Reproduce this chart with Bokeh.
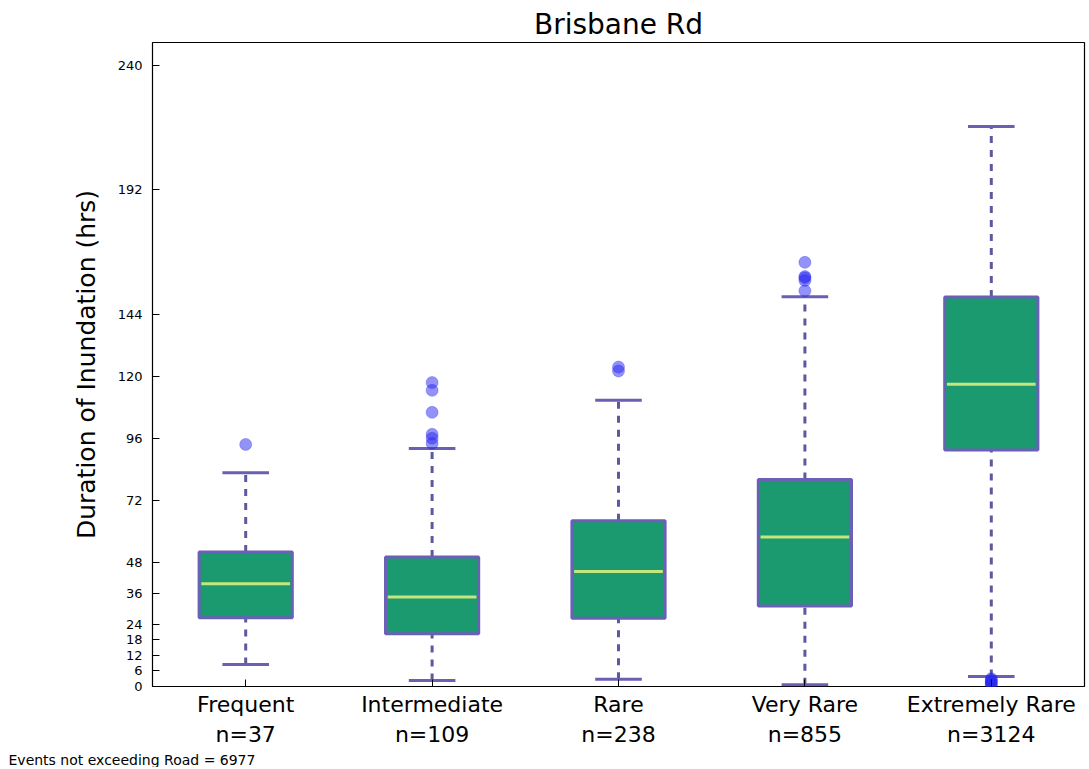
from bokeh.plotting import figure
from bokeh.models import FixedTicker, Range1d, Title, ColumnDataSource
from bokeh.embed import file_html
from bokeh.resources import INLINE

categories = ["Frequent", "Intermediate", "Rare", "Very Rare", "Extremely Rare"]
counts = [37, 109, 238, 855, 3124]
whisk_lo = [8.5, 2.3, 2.8, 0.7, 3.9]
q1 = [26.6, 20.4, 26.4, 31.1, 91.4]
median = [39.7, 34.6, 44.5, 57.8, 116.9]
q3 = [52.0, 50.1, 64.1, 80.0, 150.6]
whisk_hi = [82.6, 92.0, 110.7, 150.7, 216.5]
outlier_group = [1, 2, 2, 2, 2, 2, 2, 3, 3, 4, 4, 4, 4, 4, 5, 5, 5, 5, 5, 5]
outlier_value = [93.6, 117.5, 114.5, 106.0, 97.5, 96.0, 94.0, 123.5, 122.0,
                 164.0, 158.5, 158.0, 157.0, 153.0, 0.5, 1.0, 1.5, 2.0, 2.5, 3.0]
y_ticks = [0, 6, 12, 18, 24, 36, 48, 72, 96, 120, 144, 192, 240]
footer = "Events not exceeding Road = 6977"

pos = list(range(1, len(categories) + 1))
box_w = 0.5
cap_w = 0.25

FONT = "DejaVu Sans"

p = figure(frame_width=932, frame_height=644, output_backend="svg",
           toolbar_location=None, x_range=Range1d(0.5, 5.5), y_range=Range1d(0, 249),
           min_border_left=152, min_border_right=2, min_border_top=42, min_border_bottom=40)

p.title.text = "Brisbane Rd"
p.title.align = "center"
p.title.text_font = FONT
p.title.text_font_size = "28px"
p.title.text_font_style = "normal"
p.title.text_color = "black"
p.title.standoff = 4

p.xgrid.visible = False
p.ygrid.visible = False
p.background_fill_color = "white"
p.border_fill_color = "white"
p.outline_line_color = "black"
p.outline_line_width = 1.2

src = ColumnDataSource(dict(x=pos, lo=whisk_lo, q1=q1, med=median, q3=q3, hi=whisk_hi,
                            cl=[x - cap_w / 2 for x in pos], cr=[x + cap_w / 2 for x in pos],
                            bl=[x - box_w / 2 + 0.012 for x in pos],
                            br=[x + box_w / 2 - 0.012 for x in pos]))

# whiskers
p.segment(x0="x", y0="q3", x1="x", y1="hi", source=src, line_color="#5c5a9e",
          line_width=3, line_dash="7 7")
p.segment(x0="x", y0="lo", x1="x", y1="q1", source=src, line_color="#5c5a9e",
          line_width=3, line_dash="7 7")
# caps
p.segment(x0="cl", y0="hi", x1="cr", y1="hi", source=src, line_color="#6a5fb2", line_width=3)
p.segment(x0="cl", y0="lo", x1="cr", y1="lo", source=src, line_color="#6a5fb2", line_width=3)
# boxes
p.vbar(x="x", bottom="q1", top="q3", width=box_w, source=src, fill_color="#1b9a6f",
       line_color="#6c5fb8", line_width=3)
# medians
p.segment(x0="bl", y0="med", x1="br", y1="med", source=src,
          line_color="#c4e67c", line_width=3)
# outliers
p.scatter(x=outlier_group, y=outlier_value, size=12, marker="circle",
          fill_color="#2828f0", fill_alpha=0.5, line_color="#2828f0", line_alpha=0.3)

# axes
p.yaxis.ticker = FixedTicker(ticks=y_ticks)
p.yaxis.axis_label = "Duration of Inundation (hrs)"
p.yaxis.axis_label_text_font = FONT
p.yaxis.axis_label_text_font_size = "25px"
p.yaxis.axis_label_text_font_style = "normal"
p.yaxis.axis_label_text_color = "black"
p.yaxis.axis_label_standoff = 14
p.yaxis.major_label_text_font = FONT
p.yaxis.major_label_text_font_size = "13px"
p.yaxis.major_label_text_color = "black"
p.yaxis.major_tick_in = 7
p.yaxis.major_tick_out = 0
p.yaxis.major_tick_line_color = "black"
p.yaxis.minor_tick_line_color = None
p.yaxis.axis_line_color = None
p.yaxis.major_label_standoff = 10

p.xaxis.ticker = FixedTicker(ticks=pos)
p.xaxis.major_label_overrides = {i: f"{c}\nn={n}" for i, c, n in zip(pos, categories, counts)}
p.xaxis.major_label_text_font = FONT
p.xaxis.major_label_text_font_size = "22px"
p.xaxis.major_label_text_color = "black"
p.xaxis.major_label_text_align = "center"
p.xaxis.major_label_text_line_height = 1.2
p.xaxis.major_tick_in = 7
p.xaxis.major_tick_out = 0
p.xaxis.major_tick_line_color = "black"
p.xaxis.minor_tick_line_color = None
p.xaxis.axis_line_color = None
p.xaxis.major_label_standoff = 5

foot = Title(text=footer, align="left", text_font=FONT, text_font_size="14px",
             text_font_style="normal", text_color="black", offset=-144, standoff=0)
p.add_layout(foot, "below")

open("out.html", "w").write(file_html(p, INLINE))
